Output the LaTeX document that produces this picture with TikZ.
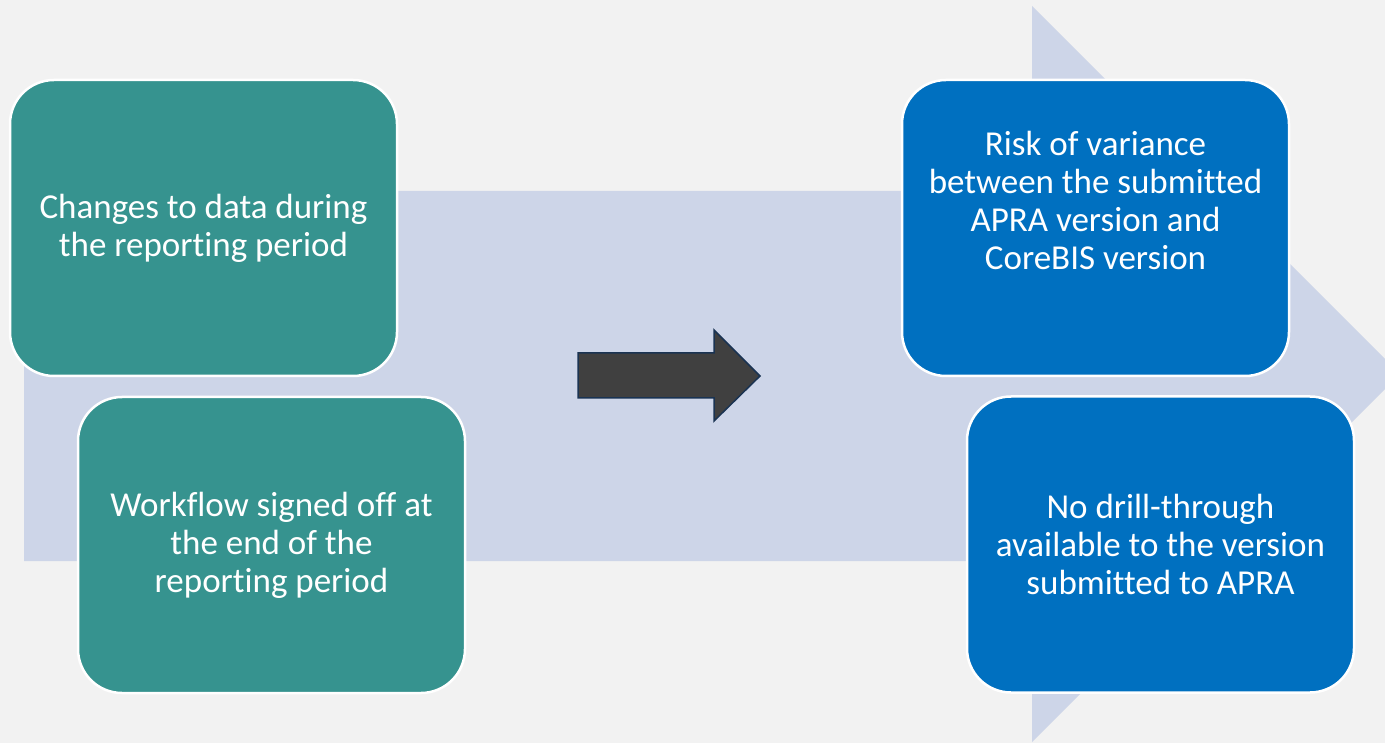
\documentclass[tikz,border=0pt]{standalone}
\usepackage{fontspec}
\setmainfont{Carlito}[Ligatures=NoCommon]
\definecolor{bgcol}{HTML}{F2F2F2}
\definecolor{bigarrowcol}{HTML}{CDD5E8}
\definecolor{tealbox}{HTML}{36938F}
\definecolor{bluebox}{HTML}{0070C0}
\definecolor{darkarrowcol}{HTML}{404040}
\definecolor{navyline}{HTML}{1A3352}
\begin{document}
\begin{tikzpicture}[x=1pt,y=-1pt,
  box/.style={rectangle, rounded corners=44pt, draw=white, line width=2.5pt,
    minimum width=387pt, minimum height=296pt, inner sep=0pt, text=white,
    align=center, font=\fontsize{35}{38}\selectfont},
  boxtext/.style={text=white, align=center, inner sep=0pt, font=\fontsize{35}{38}\selectfont},
]
\clip (0,0) rectangle (1385,743);
\fill[bgcol] (0,0) rectangle (1385,743);
% big background arrow
\fill[bigarrowcol] (24,191) -- (1032,191) -- (1032,6) -- (1400,374) -- (1032,742) -- (1032,561) -- (24,561) -- cycle;
% boxes
\node[box, fill=tealbox] (b1) at (203.5,228) {Changes to data during\\the reporting period};
\node[box, fill=tealbox] (b2) at (271.5,545) {Workflow signed off at\\the end of the\\reporting period};
\node[box, fill=bluebox] (b3) at (1095.5,228) {};
\node[boxtext] (b3t) at (1095.5,200) {Risk of variance\\between the submitted\\APRA version and\\CoreBIS version};
\node[box, fill=bluebox] (b4) at (1160.5,544.5) {No drill-through\\available to the version\\submitted to APRA};
% dark arrow
\draw[fill=darkarrowcol, draw=navyline, line width=1.5pt, line join=miter]
  (578,353) -- (714,353) -- (714,330) -- (760,376) -- (714,421) -- (714,398) -- (578,398) -- cycle;
\end{tikzpicture}
\end{document}
